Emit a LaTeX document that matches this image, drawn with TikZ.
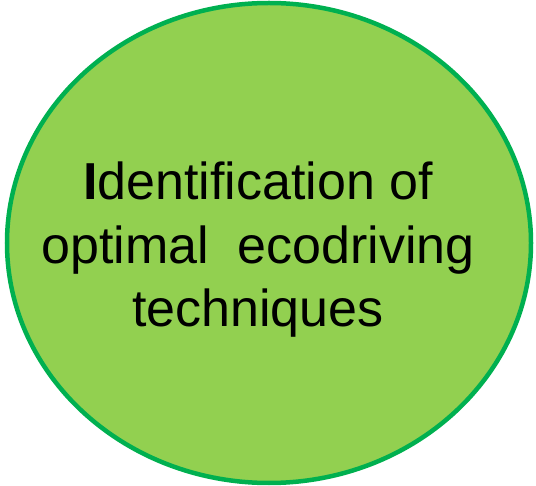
\documentclass[tikz,border=0pt]{standalone}
\usepackage{fontspec}
\setmainfont{Liberation Sans}
\definecolor{leaf}{HTML}{92D050}
\definecolor{rim}{HTML}{00B050}
\tikzset{
  bubble/.style={draw=rim, line width=4.5pt, fill=leaf},
  label/.style={align=center, font=\fontsize{52}{63.5}\selectfont, text=black, inner sep=0pt}
}
\begin{document}
\begin{tikzpicture}[x=1pt,y=1pt]
\useasboundingbox (0,0) rectangle (536,-486);
\filldraw[bubble] (269,-243) ellipse [x radius=262, y radius=240];
\node[label] (txt) at (258,-250) {\textbf{I}dentification of\\optimal\ \ ecodriving\\techniques};
\end{tikzpicture}
\end{document}
